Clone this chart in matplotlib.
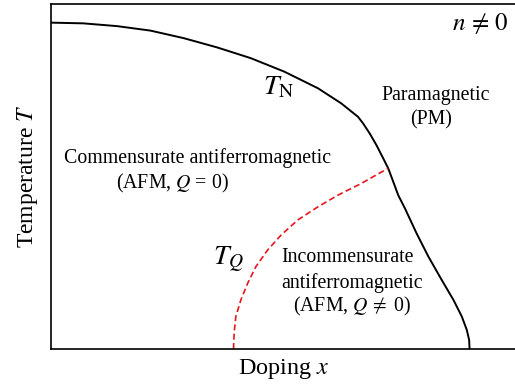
import matplotlib
import matplotlib.pyplot as plt
import numpy as np

matplotlib.use('Agg')
plt.rcParams['font.family'] = ['Liberation Serif', 'DejaVu Serif']
plt.rcParams['mathtext.fontset'] = 'stix'

# T_N boundary (doping, temperature), both in 0..1 units
tn_x = [0.0015, 0.0696, 0.1416, 0.2134, 0.2851, 0.3571, 0.4289, 0.5006,
        0.5726, 0.6228, 0.6588, 0.6696, 0.6838, 0.6983, 0.7127, 0.7235,
        0.7343, 0.7450, 0.7593, 0.7845, 0.8097, 0.8384, 0.8636, 0.8815,
        0.8922, 0.8972, 0.8981]
tn_y = [0.946, 0.944, 0.936, 0.923, 0.901, 0.874, 0.843, 0.804,
        0.756, 0.712, 0.673, 0.654, 0.625, 0.591, 0.553, 0.524,
        0.485, 0.446, 0.408, 0.335, 0.268, 0.200, 0.142, 0.094,
        0.055, 0.026, 0.0]

# T_Q boundary (dashed red)
tq_x = [0.3916, 0.3929, 0.3966, 0.4073, 0.4218, 0.4397, 0.4649, 0.4935,
        0.5295, 0.5726, 0.6157, 0.6659, 0.7235]
tq_y = [0.0, 0.046, 0.094, 0.142, 0.190, 0.239, 0.287, 0.330,
        0.374, 0.412, 0.446, 0.480, 0.524]


def main():
    fig = plt.figure(figsize=(5.15, 3.92), dpi=100)
    ax = fig.add_axes([0.099, 0.1097, 0.905, 0.880])
    ax.plot(tn_x, tn_y, color='black', lw=1.4, solid_joinstyle='round')
    ax.plot(tq_x, tq_y, color='#e8141c', lw=1.2, ls=(0, (3.6, 2)))
    ax.set_xlim(0, 1)
    ax.set_ylim(0, 1)
    ax.set_xticks([])
    ax.set_yticks([])
    ax.spines['right'].set_visible(False)
    for s in ['left', 'bottom', 'top']:
        ax.spines[s].set_linewidth(1.2)

    ax.set_xlabel('Doping $x$', fontsize=17.4, labelpad=6)
    ax.set_ylabel('Temperature $T$', fontsize=17, labelpad=8)

    fs = 14.3
    ax.text(0.922, 0.943, r'$n\,\neq\,0$', fontsize=18, ha='center', va='center')
    ax.text(0.488, 0.758, r'$T_{\mathrm{N}}$', fontsize=20, ha='center', va='center')
    ax.text(0.826, 0.736, 'Paramagnetic', fontsize=fs, ha='center', va='center')
    ax.text(0.815, 0.664, '(PM)', fontsize=fs, ha='center', va='center')
    ax.text(0.315, 0.553, 'Commensurate antiferromagnetic', fontsize=fs,
            ha='center', va='center')
    ax.text(0.261, 0.481, r'(AFM, $Q$ = 0)', fontsize=fs, ha='center', va='center')
    ax.text(0.380, 0.258, r'$T_Q$', fontsize=20, ha='center', va='center')
    ax.text(0.636, 0.264, 'Incommensurate', fontsize=fs, ha='center', va='center')
    ax.text(0.645, 0.191, 'antiferromagnetic', fontsize=fs, ha='center', va='center')
    ax.text(0.647, 0.122, r'(AFM, $Q\,\neq$ 0)', fontsize=fs, ha='center', va='center')

    fig.savefig('out.png', dpi=100)


if __name__ == "__main__":
    main()
